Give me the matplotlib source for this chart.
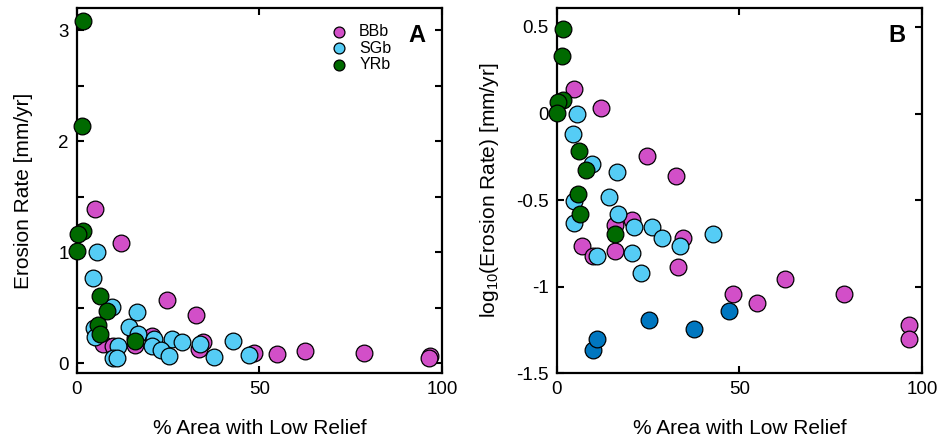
import numpy as np
import matplotlib
matplotlib.use("Agg")
import matplotlib.pyplot as plt

plt.rcParams['font.family'] = ['Liberation Sans', 'DejaVu Sans']
plt.rcParams['mathtext.fontset'] = 'custom'
plt.rcParams['mathtext.rm'] = 'Liberation Sans'

# % area with low relief and erosion rate [mm/yr] for each basin group
bbb_area = [4.8, 12.1, 24.7, 32.7, 7.0, 10.0, 16.0, 16.0, 20.6, 34.5, 33.3,
            48.4, 54.8, 62.6, 78.6, 96.6, 96.4]
bbb_rate = [1.387, 1.079, 0.565, 0.434, 0.171, 0.150, 0.161, 0.226, 0.244,
            0.192, 0.130, 0.090, 0.080, 0.111, 0.090, 0.060, 0.050]

sgb_area = [5.4, 4.4, 9.6, 16.5, 14.3, 4.6, 4.8, 16.7, 21.2, 26.1, 28.7,
            33.8, 42.7, 11.1, 20.6, 23.1]
sgb_rate = [1.000, 0.764, 0.508, 0.462, 0.329, 0.312, 0.233, 0.261, 0.221,
            0.221, 0.191, 0.172, 0.200, 0.150, 0.156, 0.120]

# SGb basins shown in dark blue on panel B
sgb_low_area = [9.8, 10.9, 25.2, 37.6, 47.1]
sgb_low_rate = [0.043, 0.050, 0.064, 0.057, 0.072]

yrb_area = [1.6, 1.5, 1.6, 0.4, 0.0, 6.2, 8.1, 5.7, 6.4, 16.0]
yrb_rate = [3.08, 2.14, 1.19, 1.16, 1.01, 0.607, 0.469, 0.344, 0.264, 0.200]

colors = {'BBb': '#D24FC8', 'SGb': '#55CCF5', 'YRb': '#006A00', 'low': '#0077C0'}

fig = plt.figure(figsize=(9.39, 4.42), dpi=100)
axA = fig.add_axes([0.082, 0.156, 0.3887, 0.826])
axB = fig.add_axes([0.593, 0.156, 0.3887, 0.826])

mk = dict(s=145, edgecolors='black', linewidths=0.9, zorder=3, clip_on=False)

# Panel A: linear erosion rate
axA.scatter(bbb_area, bbb_rate, color=colors['BBb'], label='BBb', **mk)
axA.scatter(sgb_area, sgb_rate, color=colors['SGb'], label='SGb', **mk)
axA.scatter(sgb_low_area, sgb_low_rate, color=colors['SGb'], **mk)
axA.scatter(yrb_area, yrb_rate, color=colors['YRb'], label='YRb', **mk)

# Panel B: log10 erosion rate
axB.scatter(bbb_area, np.log10(bbb_rate), color=colors['BBb'], **mk)
axB.scatter(sgb_area, np.log10(sgb_rate), color=colors['SGb'], **mk)
axB.scatter(yrb_area, np.log10(yrb_rate), color=colors['YRb'], **mk)
axB.scatter(sgb_low_area, np.log10(sgb_low_rate), color=colors['low'], **mk)

axA.set_xlim(0, 100)
axA.set_ylim(-0.09, 3.2)
axA.set_yticks([0, 0.5, 1, 1.5, 2, 2.5, 3])
axA.set_yticklabels(['0', '', '1', '', '2', '', '3'])

axB.set_xlim(0, 100)
axB.set_ylim(-1.5, 0.61)
axB.set_yticks([-1.5, -1, -0.5, 0, 0.5])
axB.set_yticklabels(['-1.5', '-1', '-0.5', '0', '0.5'])

for ax in (axA, axB):
    ax.set_xticks([0, 50, 100])
    ax.tick_params(direction='in', top=True, right=True, length=5, width=1.5,
                   labelsize=13.5, pad=6)
    for sp in ax.spines.values():
        sp.set_linewidth(1.6)
        sp.set_zorder(2.5)
    ax.set_xlabel('% Area with Low Relief', fontsize=15, labelpad=15)

axA.set_ylabel('Erosion Rate [mm/yr]', fontsize=15, labelpad=18)
axB.set_ylabel(r'log$_{\mathregular{10}}$(Erosion Rate) [mm/yr]', fontsize=15,
               labelpad=11)

axA.text(0.955, 0.955, 'A', transform=axA.transAxes, fontsize=17,
         fontweight='bold', ha='right', va='top')
axB.text(0.955, 0.955, 'B', transform=axB.transAxes, fontsize=17,
         fontweight='bold', ha='right', va='top')

axA.legend(loc='upper right', bbox_to_anchor=(0.905, 1.0), frameon=False,
           fontsize=11.5, handletextpad=0.25, labelspacing=0.1, borderaxespad=0.6,
           markerscale=0.65)

fig.savefig('out.png', dpi=100)
